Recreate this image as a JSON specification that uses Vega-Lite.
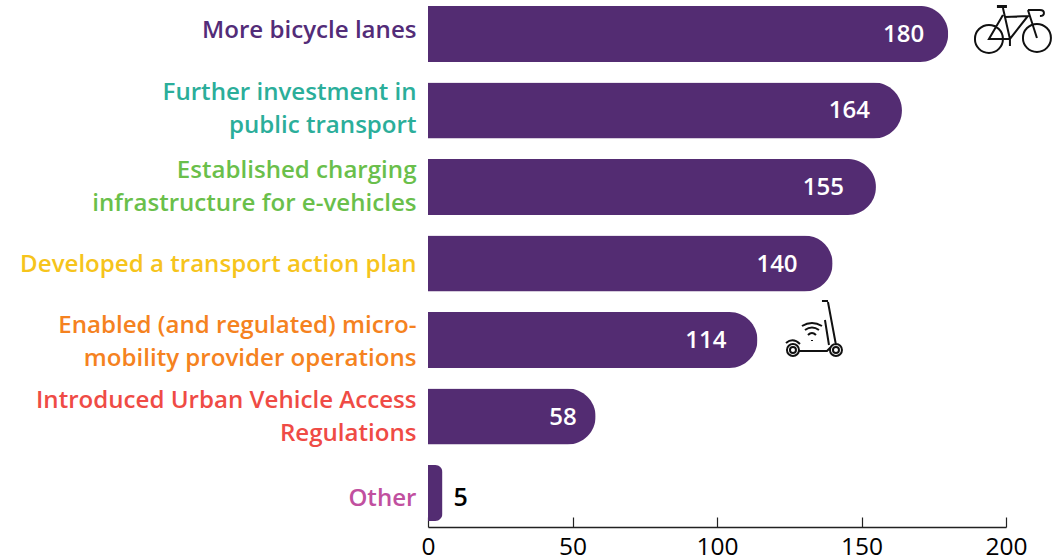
{
  "$schema": "https://vega.github.io/schema/vega-lite/v6.json",
  "autosize": "none",
  "width": 578,
  "height": 527,
  "padding": {"left": 428, "top": 0, "right": 53, "bottom": 33},
  "background": "white",
  "config": {"view": {"stroke": null}, "font": "Open Sans"},
  "datasets": {
    "main": [
      {"label": "More bicycle lanes", "value": 180},
      {"label": "Further investment in|public transport", "value": 164},
      {"label": "Established charging|infrastructure for e-vehicles", "value": 155},
      {"label": "Developed a transport action plan", "value": 140},
      {"label": "Enabled (and regulated) micro-|mobility provider operations", "value": 114},
      {"label": "Introduced Urban Vehicle Access|Regulations", "value": 58},
      {"label": "Other", "value": 5}
    ],
    "bike": [{"label": "More bicycle lanes", "position": 202.4}],
    "scooter": [{"label": "Enabled (and regulated) micro-|mobility provider operations", "position": 133.9}]
  },
  "encoding": {
    "x": {
      "field": "value", "type": "quantitative",
      "scale": {"domain": [0, 200], "nice": false},
      "axis": {
        "title": null, "grid": false, "values": [0, 50, 100, 150, 200],
        "domainColor": "#222222", "domainWidth": 1.5, "tickColor": "#222222", "tickWidth": 1.2, "tickSize": -10,
        "labelColor": "#000000", "labelFontSize": 24.5, "labelFontWeight": 500, "labelPadding": 30, "labelFlush": false, "labelBaseline": "middle", "labelOverlap": false
      }
    },
    "y": {
      "field": "label", "type": "nominal",
      "scale": {
        "domain": ["More bicycle lanes", "Further investment in|public transport", "Established charging|infrastructure for e-vehicles", "Developed a transport action plan", "Enabled (and regulated) micro-|mobility provider operations", "Introduced Urban Vehicle Access|Regulations", "Other"],
        "paddingInner": 0.268, "paddingOuter": 0.078
      },
      "axis": {
        "title": null, "domain": false, "ticks": false, "labelPadding": 12, "labelLimit": 430,
        "labelFontSize": 24.1, "labelFontWeight": 600, "labelLineHeight": 33, "labelBaseline": "middle",
        "labelExpr": "split(datum.value, '|')",
        "labelOffset": {"expr": "{'More bicycle lanes':-3,'Further investment in|public transport':-17,'Established charging|infrastructure for e-vehicles':-15.5,'Developed a transport action plan':1,'Enabled (and regulated) micro-|mobility provider operations':-14,'Introduced Urban Vehicle Access|Regulations':-16,'Other':6}[datum.value]"},
        "labelColor": {"expr": "{'More bicycle lanes':'#532c78','Further investment in|public transport':'#2bae9a','Established charging|infrastructure for e-vehicles':'#6abf4b','Developed a transport action plan':'#f6c41c','Enabled (and regulated) micro-|mobility provider operations':'#f58220','Introduced Urban Vehicle Access|Regulations':'#ef4b45','Other':'#c1509f'}[datum.value]"}
      }
    }
  },
  "layer": [
    {
      "data": {"name": "main"},
      "mark": {"type": "bar", "color": "#532c72", "cornerRadiusEnd": 28}
    },
    {
      "data": {"name": "main"},
      "transform": [{"filter": "datum.value >= 50"}],
      "mark": {"type": "text", "color": "white", "align": "right", "dy": 1, "dx": {"expr": "{'180':-24,'164':-32,'155':-32,'140':-35,'114':-31,'58':-19}[datum.value]"}, "fontSize": 24, "fontWeight": 600},
      "encoding": {"text": {"field": "value", "type": "quantitative"}}
    },
    {
      "data": {"name": "main"},
      "transform": [{"filter": "datum.value < 50"}],
      "mark": {"type": "text", "color": "#000000", "align": "left", "dx": 11, "dy": 5, "fontSize": 25, "fontWeight": 600},
      "encoding": {"text": {"field": "value", "type": "quantitative"}}
    },
    {
      "data": {"name": "bike"},
      "mark": {
        "type": "point", "filled": false, "stroke": "#111111", "strokeWidth": 2, "opacity": 1, "size": 4, "clip": false,
        "shape": "M -38 5 a 14 14 0 1 0 28 0 a 14 14 0 1 0 -28 0 M 10 4 a 14 14 0 1 0 28 0 a 14 14 0 1 0 -28 0 M -10 -26 L -3 5 L 15 -18 L -8 -17 M -10 -19 L -24 5 L -3 5 M 15 -24 L 24 4 M 15 -24 L 27 -24 Q 31 -24 31 -21 Q 31 -18 27 -18 M -3 5 L -3 12 M -16 -28 L -6 -28 M -16 -27 L -6 -27"
      },
      "encoding": {"x": {"field": "position", "type": "quantitative"}}
    },
    {
      "data": {"name": "scooter"},
      "mark": {
        "type": "point", "filled": false, "stroke": "#111111", "strokeWidth": 2, "opacity": 1, "size": 4,
        "shape": "M -28 10 a 6 6 0 1 0 12 0 a 6 6 0 1 0 -12 0 M -25 10 a 3 3 0 1 0 6 0 a 3 3 0 1 0 -6 0 M 15 10 a 6 6 0 1 0 12 0 a 6 6 0 1 0 -12 0 M 18 10 a 3 3 0 1 0 6 0 a 3 3 0 1 0 -6 0 M -16 11 L 12 11 L 15 8 M 13 -38 L 21 5 M 10 -20 L 14 5 M 7 -39 L 13 -39 M -3 0 L -3 1 M -7 -5 Q -3 -9 1 -5 M -10 -10 Q -3 -15 4 -10 M -13 -14 Q -3 -20 7 -14 M -29 3 Q -22 -3 -15 4"
      },
      "encoding": {"x": {"field": "position", "type": "quantitative"}}
    }
  ]
}
